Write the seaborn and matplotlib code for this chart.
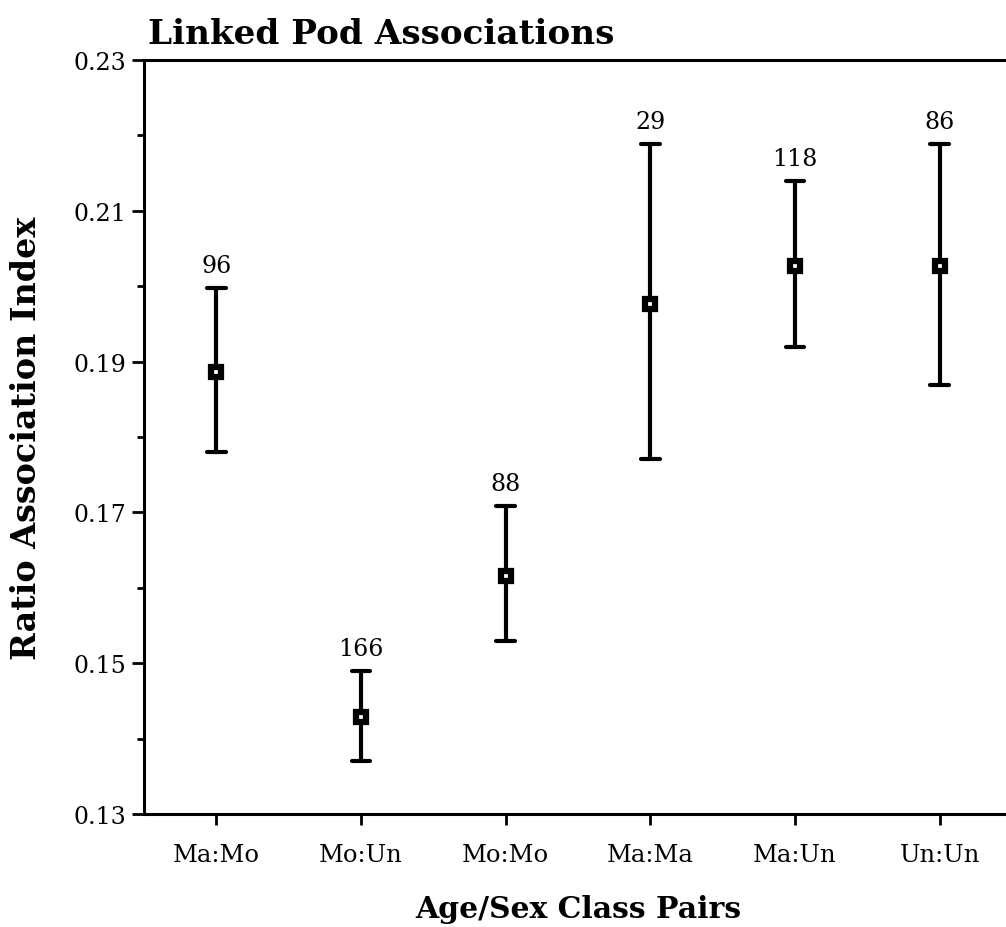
import matplotlib
matplotlib.use("Agg")
import matplotlib.pyplot as plt
import seaborn as sns
import pandas as pd
import numpy as np
from matplotlib.ticker import FixedLocator, FormatStrFormatter

categories = ["Ma:Mo", "Mo:Un", "Mo:Mo", "Ma:Ma", "Ma:Un", "Un:Un"]
means = [0.1886, 0.1429, 0.1616, 0.1976, 0.2027, 0.2027]
lows = [0.1780, 0.1370, 0.1529, 0.1771, 0.1919, 0.1869]
highs = [0.1998, 0.1490, 0.1709, 0.2189, 0.2140, 0.2189]
counts = ["96", "166", "88", "29", "118", "86"]
major_yticks = [0.13, 0.15, 0.17, 0.19, 0.21, 0.23]
minor_yticks = [0.14, 0.16, 0.18, 0.20, 0.22]

sns.set_theme(style="ticks")
plt.rcParams["font.family"] = ["DejaVu Serif"]
plt.rcParams.update({"text.color": "black", "axes.labelcolor": "black",
                     "xtick.color": "black", "ytick.color": "black"})

rows = []
for c, lo, m, hi in zip(categories, lows, means, highs):
    for v in (lo, m, hi):
        rows.append({"pair": c, "value": v})
df = pd.DataFrame(rows)

fig = plt.figure(figsize=(10.06, 9.28), dpi=100)
ax = fig.add_axes([144 / 1006, 1 - 815 / 928, (1012 - 144) / 1006, (815 - 61) / 928])

sns.pointplot(data=df, x="pair", y="value", order=categories, estimator="median",
              errorbar=("pi", 100), color="black", markers="s", linestyles="none",
              capsize=0.13, err_kws={"linewidth": 3.0}, markersize=6.5, ax=ax)

for ln in ax.lines:
    if ln.get_marker() == "s":
        ln.set_markerfacecolor("white")
        ln.set_markeredgecolor("black")
        ln.set_markeredgewidth(4.5)
        ln.set_zorder(5)

for i, (hi, n) in enumerate(zip(highs, counts)):
    ax.annotate(n, xy=(i, hi), xytext=(0, 8), textcoords="offset points",
                ha="center", va="bottom", fontsize=17, color="black")

ax.set_xlim(-0.5, 5.5)
ax.set_ylim(0.13, 0.23)
ax.yaxis.set_major_locator(FixedLocator(major_yticks))
ax.yaxis.set_minor_locator(FixedLocator(minor_yticks))
ax.yaxis.set_major_formatter(FormatStrFormatter("%.2f"))

for s in ["left", "bottom", "top"]:
    ax.spines[s].set_linewidth(2.2)
    ax.spines[s].set_color("black")
ax.spines["right"].set_visible(False)

ax.tick_params(axis="y", which="major", length=9, width=2, direction="out", labelsize=17, pad=4)
ax.tick_params(axis="y", which="minor", length=5, width=2, direction="out")
ax.tick_params(axis="x", which="major", length=8, width=2, direction="out", labelsize=17.5, pad=13)
ax.tick_params(top=False, right=False)

ax.set_xlabel("Age/Sex Class Pairs", fontsize=21.5, fontweight="bold", labelpad=20)
ax.set_ylabel("Ratio Association Index", fontsize=24, fontweight="bold", labelpad=22)
ax.set_title("Linked Pod Associations", loc="left", fontsize=24.7, fontweight="bold", pad=12, x=0.005)

fig.savefig("out.png", dpi=100)
